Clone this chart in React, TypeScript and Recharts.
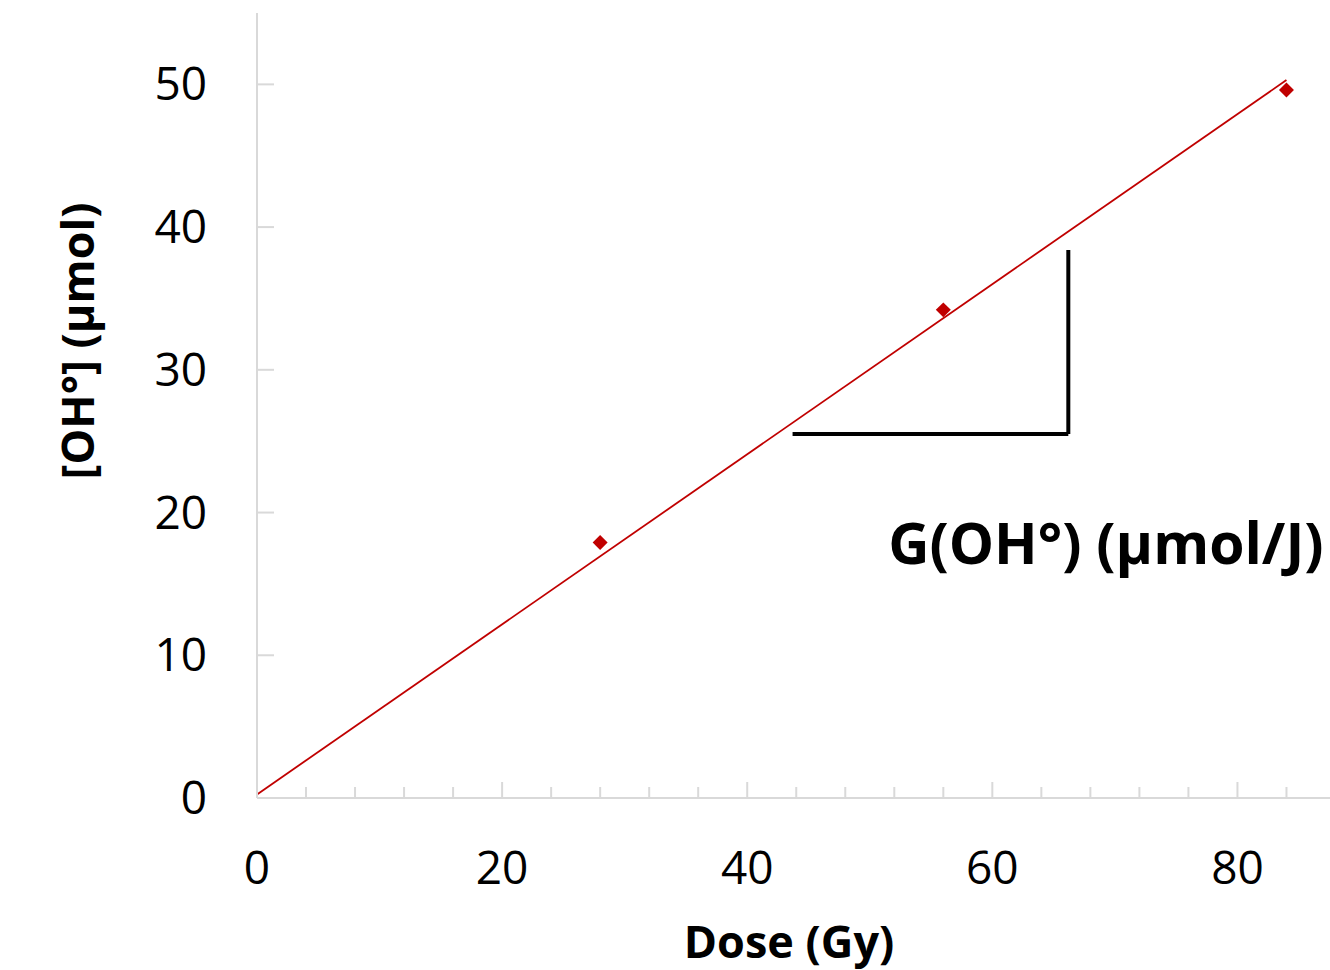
import React from 'react';
import { ScatterChart, Scatter, XAxis, YAxis, ReferenceLine, ReferenceDot, Label } from 'recharts';

const doses = [28, 56, 84];
const ohValues = [17.9, 34.2, 49.6];
const trendX = [0, 84];
const trendY = [0.25, 50.3];
const xTicks = [0, 4, 8, 12, 16, 20, 24, 28, 32, 36, 40, 44, 48, 52, 56, 60, 64, 68, 72, 76, 80, 84, 88];
const yTicks = [0, 10, 20, 30, 40, 50];
const slopeX = [43.7, 66.2];
const slopeY = [25.5, 38.4];
const annotationText = 'G(OH°) (µmol/J)';
const annotationPos = [51.5, 16.4];
const xTitle = 'Dose (Gy)';
const yTitle = '[OH°] (µmol)';

const points = doses.map((d, i) => ({ x: d, y: ohValues[i] }));
const trend = trendX.map((d, i) => ({ x: d, y: trendY[i] }));

const FONT = '"Open Sans", sans-serif';
const AXIS = '#d9d9d9';
const RED = '#c00000';

const XTick = (props: any) => {
  const { x, y, payload } = props;
  const v = payload.value;
  const major = v % 20 === 0;
  return (
    <g>
      <line x1={x} x2={x} y1={y} y2={y - (major ? 16 : 11)} stroke={AXIS} strokeWidth={2} />
      {major && (
        <text x={x} y={y + 86} textAnchor="middle" fontSize={46} fontFamily={FONT} fill="#000">
          {v}
        </text>
      )}
    </g>
  );
};

const YTick = (props: any) => {
  const { x, y, payload } = props;
  return (
    <g>
      <line x1={x} x2={x + 17} y1={y} y2={y} stroke={AXIS} strokeWidth={2} />
      <text x={x - 50} y={y + 16} textAnchor="end" fontSize={46} fontFamily={FONT} fill="#000">
        {payload.value}
      </text>
    </g>
  );
};

const Diamond = (p: any) => (
  <rect
    x={p.cx - 5.3}
    y={p.cy - 5.3}
    width={10.6}
    height={10.6}
    fill={RED}
    transform={`rotate(45 ${p.cx} ${p.cy})`}
  />
);

const Empty = () => <g />;

export default function App() {
  return (
    <div style={{ position: 'absolute', left: 0, top: 0, width: 1330, height: 970, overflow: 'hidden', background: '#fff' }}>
      <ScatterChart width={1360} height={970} margin={{ top: 13, right: 0, left: 0, bottom: 0 }}>
        <XAxis
          type="number"
          dataKey="x"
          domain={[0, 90]}
          ticks={xTicks}
          interval={0}
          height={172}
          tickSize={0}
          tickMargin={0}
          tickLine={false}
          axisLine={{ stroke: AXIS, strokeWidth: 2 }}
          tick={<XTick />}
        >
          <Label
            content={(p: any) => (
              <text
                x={p.viewBox.x + 532}
                y={p.viewBox.y + 160}
                textAnchor="middle"
                fontSize={45}
                fontWeight="bold"
                fontFamily={FONT}
                fill="#000"
              >
                {xTitle}
              </text>
            )}
          />
        </XAxis>
        <YAxis
          type="number"
          dataKey="y"
          domain={[0, 55]}
          ticks={yTicks}
          interval={0}
          width={257}
          tickSize={0}
          tickMargin={0}
          tickLine={false}
          axisLine={{ stroke: AXIS, strokeWidth: 2 }}
          tick={<YTick />}
        >
          <Label
            content={(p: any) => {
              const cx = p.viewBox.x + 76;
              const cy = p.viewBox.y + 328;
              return (
                <text
                  x={cx}
                  y={cy}
                  transform={`rotate(-90 ${cx} ${cy})`}
                  textAnchor="middle"
                  dominantBaseline="central"
                  fontSize={45}
                  fontWeight="bold"
                  fontFamily={FONT}
                  fill="#000"
                >
                  {yTitle}
                </text>
              );
            }}
          />
        </YAxis>
        <ReferenceLine
          segment={[{ x: slopeX[0], y: slopeY[0] }, { x: slopeX[1], y: slopeY[0] }]}
          stroke="#000"
          strokeWidth={4}
        />
        <ReferenceLine
          segment={[{ x: slopeX[1], y: slopeY[0] }, { x: slopeX[1], y: slopeY[1] }]}
          stroke="#000"
          strokeWidth={4}
        />
        <Scatter
          data={trend}
          line={{ stroke: RED, strokeWidth: 1.8 }}
          shape={<Empty />}
          isAnimationActive={false}
        />
        <Scatter data={points} fill={RED} shape={<Diamond />} isAnimationActive={false} />
        <ReferenceDot
          x={annotationPos[0]}
          y={annotationPos[1]}
          r={0}
          shape={(p: any) => (
            <text x={p.cx} y={p.cy} textAnchor="start" fontSize={57} fontWeight="bold" fontFamily={FONT} fill="#000">
              {annotationText}
            </text>
          )}
        />
      </ScatterChart>
    </div>
  );
}
